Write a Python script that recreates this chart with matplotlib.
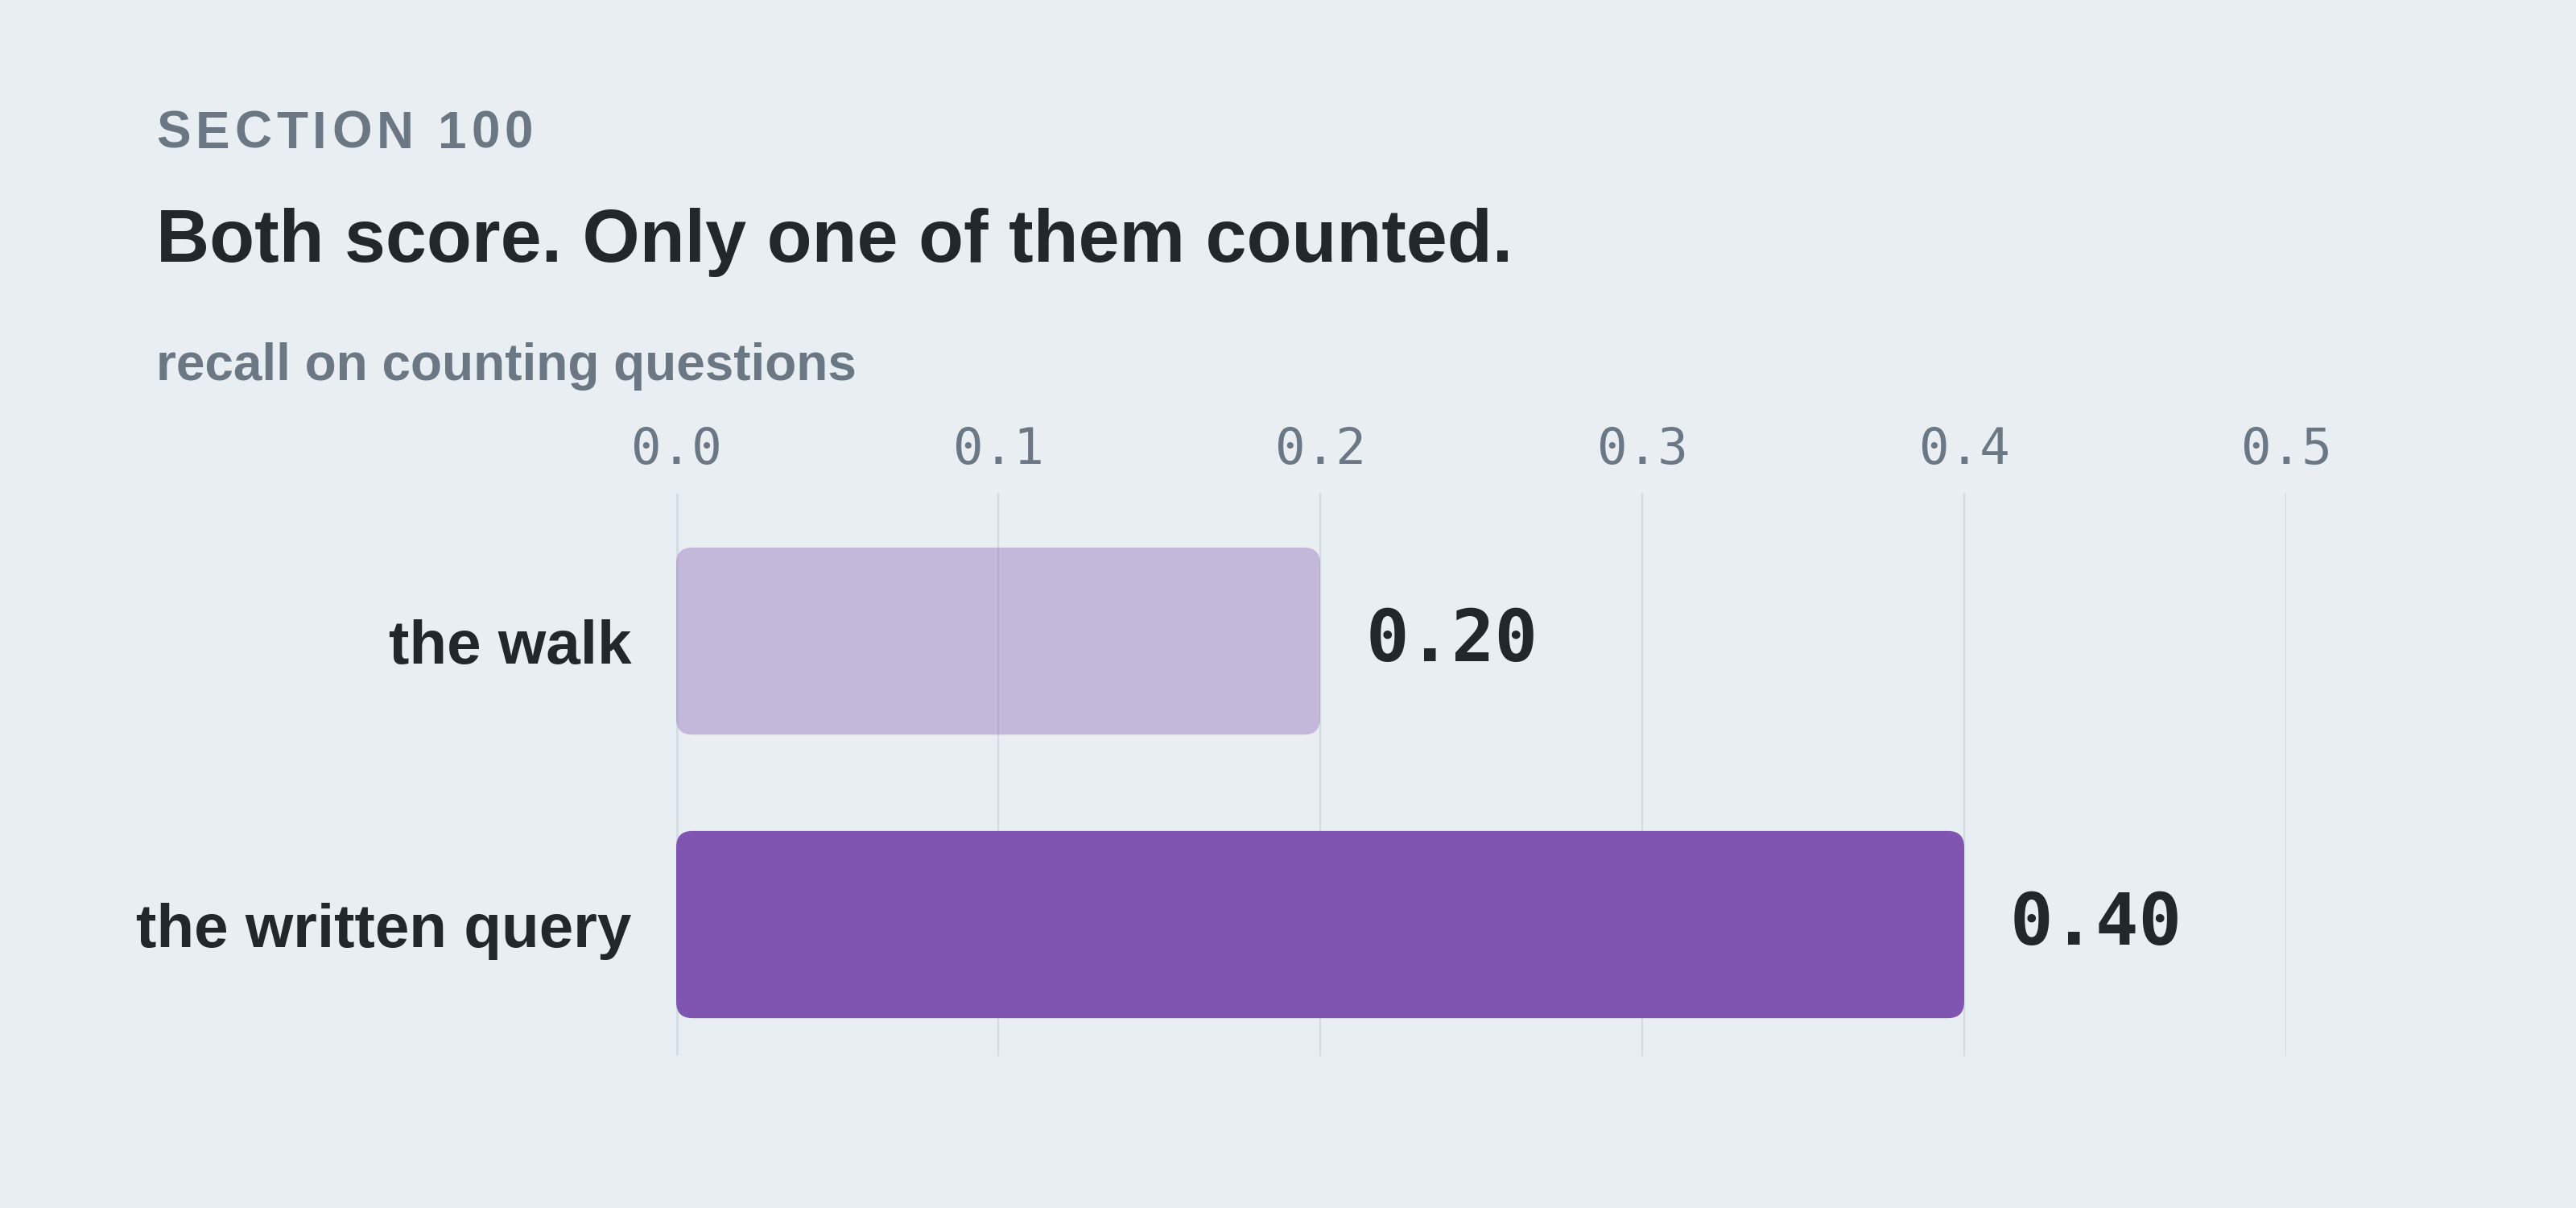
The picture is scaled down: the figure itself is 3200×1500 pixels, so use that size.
import matplotlib
matplotlib.use("Agg")
import matplotlib.pyplot as plt
from matplotlib.patches import FancyBboxPatch

# data
categories = ["the walk", "the written query"]
recall = [0.20, 0.40]
ticks = [0.0, 0.1, 0.2, 0.3, 0.4, 0.5]

BG = "#e8eef1"
DARK = "#22272b"
GREY = "#6b7884"
PURPLE = "#7f55b1"
bar_alpha = [0.35, 1.0]
SANS = "Liberation Sans"
MONO = "DejaVu Sans Mono"

W, H, DPI = 3200, 1500, 200
fig = plt.figure(figsize=(W / DPI, H / DPI), dpi=DPI, facecolor=BG)
ax = fig.add_axes([840 / W, 1 - 1311 / H, 2000 / W, (1311 - 613) / H])
ax.set_facecolor(BG)

ypos = list(range(len(categories)))
bars = ax.barh(ypos, recall, height=0.66, color=PURPLE)

# swap plain bars for rounded ones
r_x = 0.005
aspect = 11.4
for rect, a in zip(bars, bar_alpha):
    rect.set_visible(False)
    p = FancyBboxPatch((rect.get_x(), rect.get_y()), rect.get_width(), rect.get_height(),
                       boxstyle=f"round,pad=0,rounding_size={r_x}",
                       mutation_aspect=aspect, facecolor=PURPLE, alpha=a,
                       edgecolor="none", zorder=2)
    ax.add_patch(p)

ax.set_xlim(0, 0.5)
ax.set_ylim(1.463, -0.52)

# grid under the bars (shows through the pale one)
for t in ticks:
    if t == 0:
        ax.axvline(t, color="#d3dde6", lw=1.8, zorder=1)
    else:
        ax.axvline(t, color="#d2dae0", lw=0.75, zorder=1)

for s in ax.spines.values():
    s.set_visible(False)

ax.xaxis.tick_top()
ax.set_xticks(ticks)
ax.set_xticklabels([f"{t:.1f}" for t in ticks], family=MONO, fontsize=22.5, color=GREY)
ax.tick_params(axis="x", length=0, pad=8.5)
ax.set_yticks(ypos)
ax.set_yticklabels(categories, family=SANS, fontweight="bold", fontsize=27.5, color=DARK)
ax.tick_params(axis="y", length=0, pad=20)

for i, v in enumerate(recall):
    ax.annotate(f"{v:.2f}", xy=(v, i), xytext=(20.5, 0), textcoords="offset points",
                va="center", ha="left", family=MONO, fontweight="bold",
                fontsize=32, color=DARK)

# header texts
x0 = 194 / W
fig.canvas.draw()
renderer = fig.canvas.get_renderer()
# letter spaced kicker
cx = 194
for ch in "SECTION 100":
    t = fig.text(cx / W, 1 - 184 / H, ch, family=SANS, fontweight="bold",
                 fontsize=23, color=GREY, va="baseline", ha="left")
    if ch == " ":
        w = 18
    else:
        w = t.get_window_extent(renderer).width
    cx += w + 6

fig.text(x0, 1 - 325 / H, "Both score. Only one of them counted.", family=SANS,
         fontweight="bold", fontsize=33, color=DARK, va="baseline", ha="left")
fig.text(x0, 1 - 472 / H, "recall on counting questions", family=SANS,
         fontweight="bold", fontsize=23, color=GREY, va="baseline", ha="left")

fig.savefig("out.png", dpi=DPI, facecolor=BG)
